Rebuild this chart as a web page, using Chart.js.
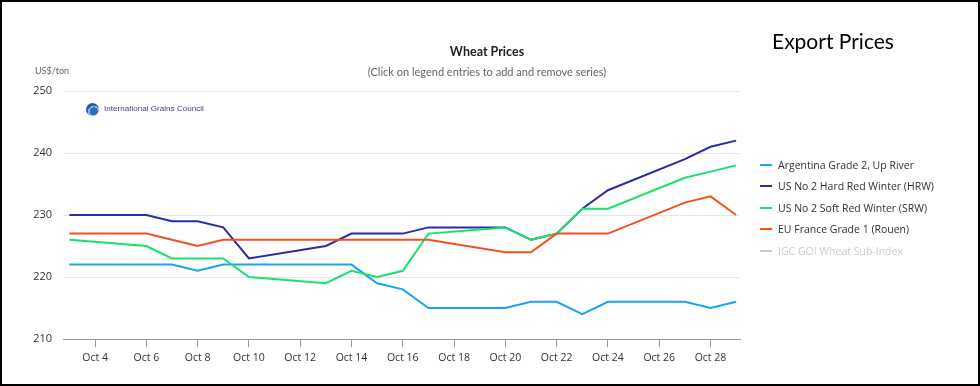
<!DOCTYPE html>
<html>
<head>
<meta charset="utf-8">
<script src="https://cdn.jsdelivr.net/npm/chart.js@4"></script>
<style>
  body { margin: 0; background: #fff; }
  #wrap { position: relative; width: 980px; height: 386px; overflow: hidden; font-family: Lato, "Open Sans", sans-serif; }
  #frame { position: absolute; left: 0; top: 0; width: 980px; height: 386px; box-sizing: border-box; border: 2px solid #000; pointer-events: none; }
  canvas { position: absolute; left: 0; top: 0; }
  .txt { position: absolute; white-space: nowrap; }
  #export { left: 772px; top: 28px; font-size: 21px; color: #000; }
  #title { left: 0; width: 974px; text-align: center; top: 44px; font-size: 12.5px; font-weight: bold; color: #222; }
  #sub { left: 0; width: 974px; text-align: center; top: 65px; font-size: 11px; color: #666; }
  #unit { left: 35px; top: 65px; font-size: 9px; color: #666; }
  #logo { left: 86px; top: 103px; height: 14px; }
  #logo .ball { position: absolute; left: 0; top: 0; width: 13px; height: 13px; border-radius: 50%;
    background: radial-gradient(circle at 60% 65%, #2a6fc0 0 35%, #8fb4e0 36% 50%, #2a5aa8 51% 100%); }
  #logo span { position: absolute; left: 18px; top: 1px; font-family: "Liberation Sans", Arial, sans-serif; font-size: 8.1px; color: #3d3d8f; }
  #legend { position: absolute; left: 760px; top: 157px; font-family: "Open Sans", sans-serif; font-size: 10.5px; }
  #legend div { position: relative; height: 21.4px; line-height: 16px; padding-left: 18px; color: #333; }
  #legend i { position: absolute; left: 0; top: 7px; width: 12px; height: 2px; }
</style>
</head>
<body>
<div id="wrap">
  <canvas id="myChart" width="980" height="386"></canvas>
  <div class="txt" id="export">Export Prices</div>
  <div class="txt" id="title">Wheat Prices</div>
  <div class="txt" id="sub">(Click on legend entries to add and remove series)</div>
  <div class="txt" id="unit">US$/ton</div>
  <div class="txt" id="logo"><div class="ball"></div><span>International Grains Council</span></div>
  <div id="legend"></div>
  <div id="frame"></div>
</div>
<script>
// trading days in October
const days = [3, 6, 7, 8, 9, 10, 13, 14, 15, 16, 17, 20, 21, 22, 23, 24, 27, 28, 29];
const tickDays = [4, 6, 8, 10, 12, 14, 16, 18, 20, 22, 24, 26, 28];

const argentina = [222, 222, 222, 221, 222, 222, 222, 222, 219, 218, 215, 215, 216, 216, 214, 216, 216, 215, 216];
const hrw       = [230, 230, 229, 229, 228, 223, 225, 227, 227, 227, 228, 228, 226, 227, 231, 234, 239, 241, 242];
const srw       = [226, 225, 223, 223, 223, 220, 219, 221, 220, 221, 227, 228, 226, 227, 231, 231, 236, 237, 238];
const euFrance  = [227, 227, 226, 225, 226, 226, 226, 226, 226, 226, 226, 224, 224, 227, 227, 227, 232, 233, 230];
const igcGoi    = [];

const seriesNames = [
  'Argentina Grade 2, Up River',
  'US No 2 Hard Red Winter (HRW)',
  'US No 2 Soft Red Winter (SRW)',
  'EU France Grade 1 (Rouen)',
  'IGC GOI Wheat Sub-Index'
];
const seriesColors = ['#1aa3f0', '#2b2ba6', '#17e36b', '#f4511e', '#cccccc'];
const seriesValues = [argentina, hrw, srw, euFrance, igcGoi];

// later series drawn on top, like the original
const datasets = seriesValues.map((vals, i) => ({
  label: seriesNames[i],
  data: vals.map((v, j) => ({ x: days[j], y: v })),
  borderColor: seriesColors[i],
  backgroundColor: seriesColors[i],
  borderWidth: 2,
  pointRadius: 0,
  tension: 0,
  order: seriesValues.length - i,
  hidden: i == 4,
}));

const ctx = document.getElementById('myChart');
new Chart(ctx, {
  type: 'line',
  data: { datasets: datasets },
  options: {
    responsive: false,
    animation: false,
    layout: { padding: { left: 20, right: 240, top: 91, bottom: 0 } },
    plugins: { legend: { display: false }, tooltip: { enabled: false } },
    scales: {
      x: {
        type: 'linear',
        min: 2.75,
        max: 29.15,
        afterFit: (s) => { s.height = 47; },
        afterBuildTicks: (s) => { s.ticks = tickDays.map((d) => ({ value: d })); },
        grid: { drawOnChartArea: false, drawTicks: true, tickLength: 8, tickColor: '#999', tickWidth: 1 },
        border: { color: '#999', width: 1 },
        ticks: {
          color: '#333',
          padding: 5,
          maxRotation: 0,
          autoSkip: false,
          font: { family: 'Open Sans', size: 10.5 },
          callback: (v) => 'Oct ' + v,
        },
      },
      y: {
        min: 210,
        max: 250,
        afterFit: (s) => { s.width = 43; },
        grid: { color: '#e6e6e6', drawTicks: false },
        border: { display: false },
        ticks: { stepSize: 10, color: '#333', padding: 11, font: { family: 'Open Sans', size: 11 } },
      },
    },
  },
});

// legend on the right, last entry greyed out (hidden series)
const legend = document.getElementById('legend');
seriesNames.forEach((name, i) => {
  const row = document.createElement('div');
  row.innerHTML = '<i style="background:' + seriesColors[i] + '"></i>' + name;
  if (i == 4) row.style.color = '#cccccc';
  legend.appendChild(row);
});
</script>
</body>
</html>
